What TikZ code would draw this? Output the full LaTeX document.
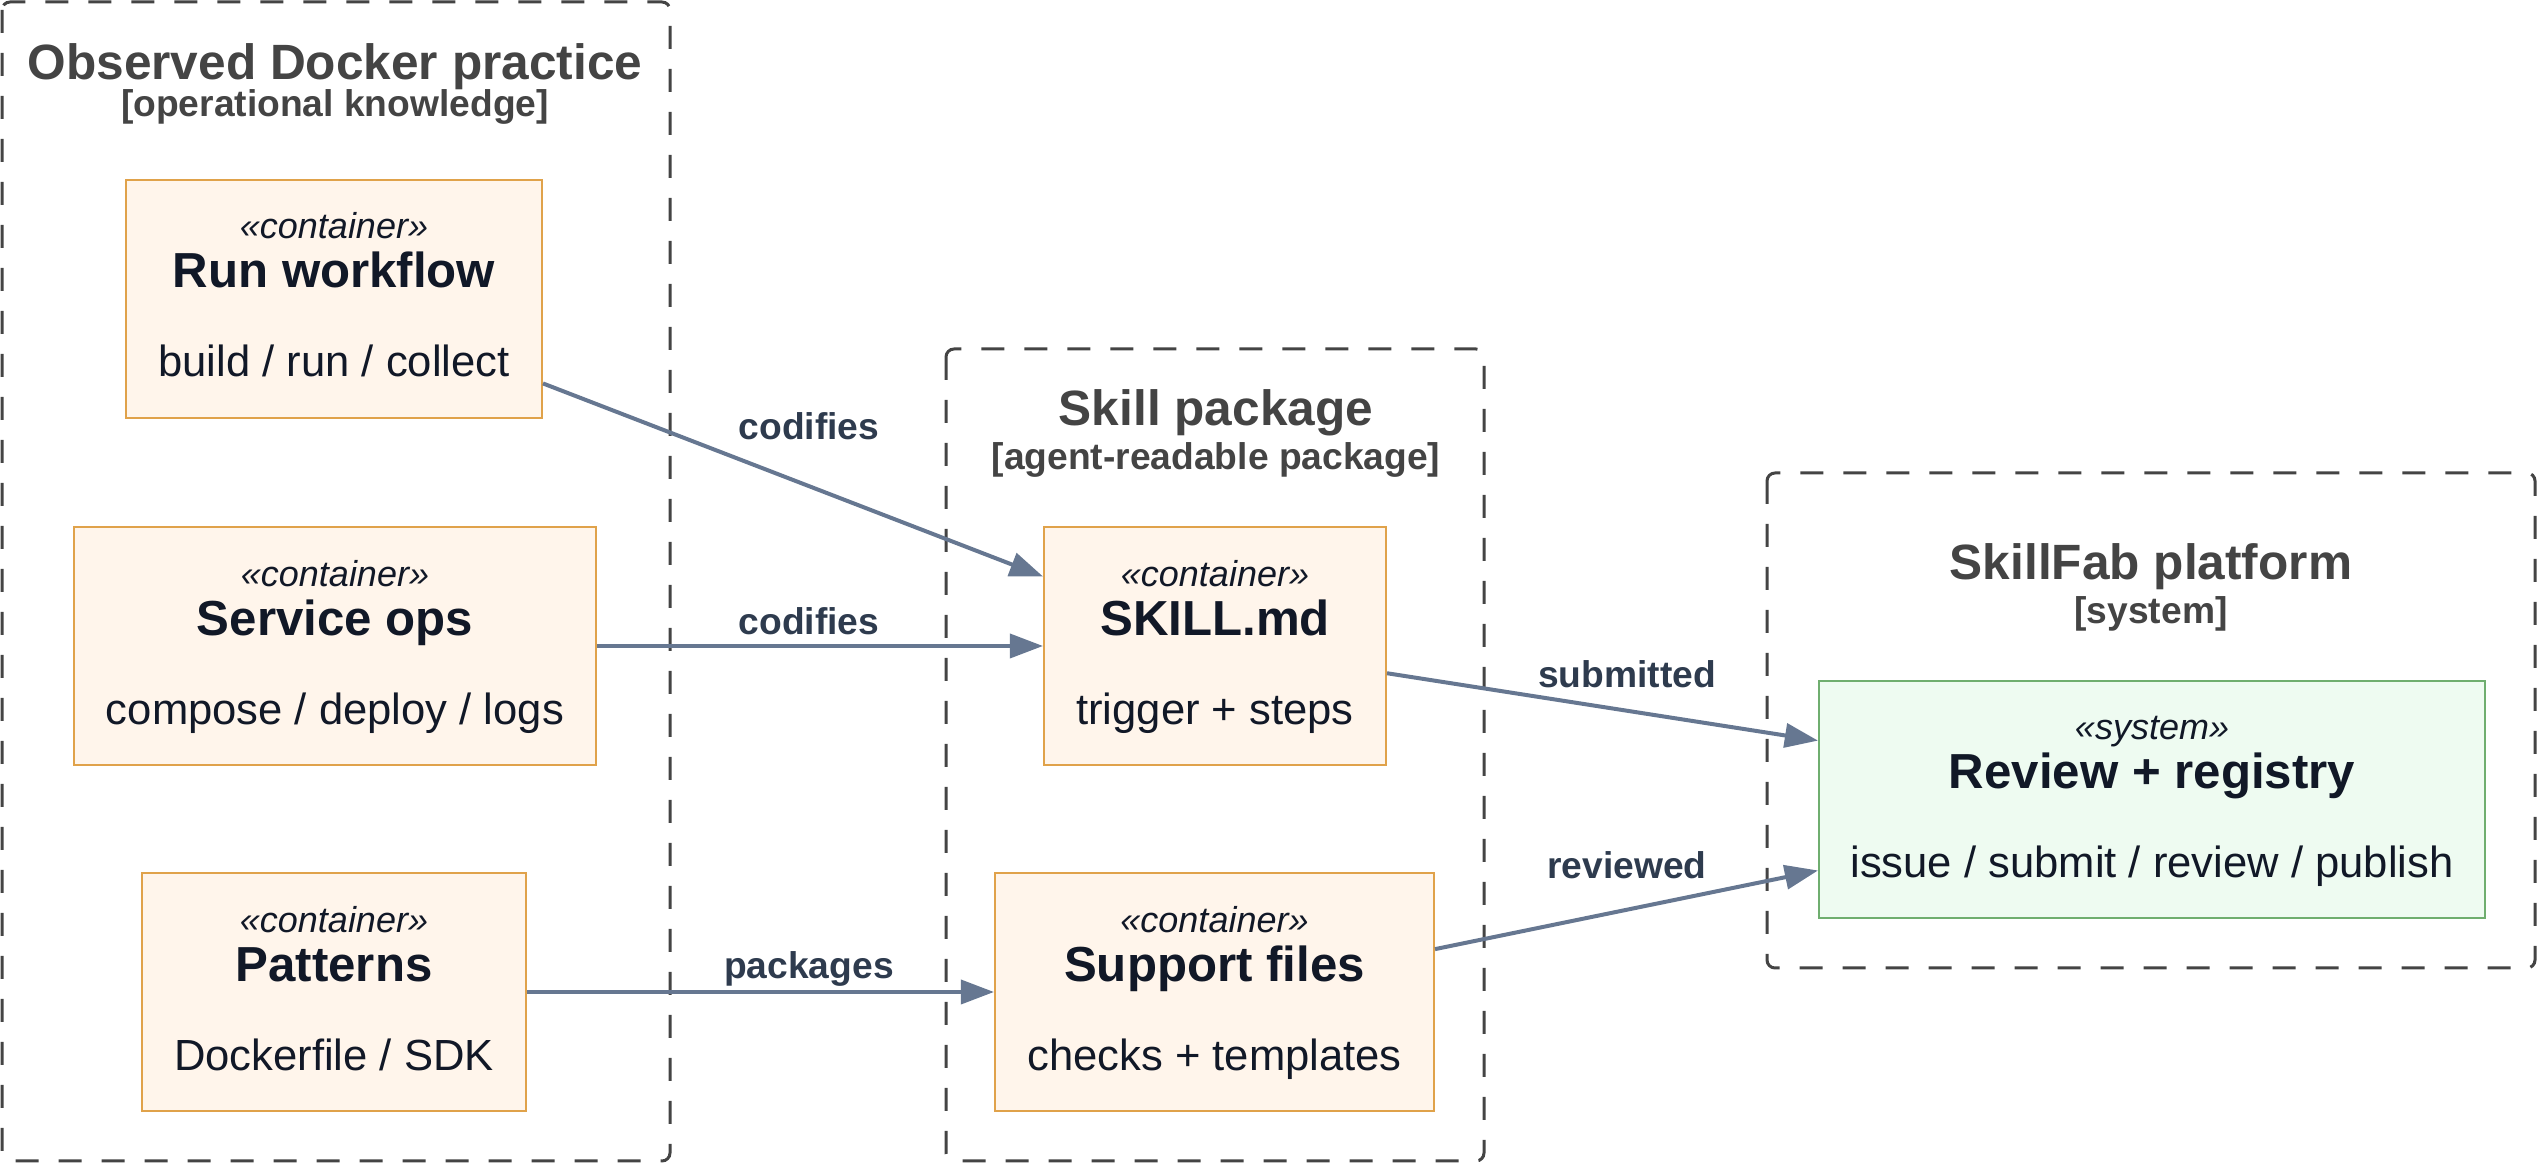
\documentclass[tikz,border=0pt]{standalone}
\usepackage{fontspec}
\setmainfont{Liberation Sans}
\usetikzlibrary{arrows.meta}

\definecolor{groupgray}{HTML}{444444}
\definecolor{boxline}{HTML}{E0A24A}
\definecolor{boxfill}{HTML}{FFF5EB}
\definecolor{sysline}{HTML}{6FAE6F}
\definecolor{sysfill}{HTML}{EEFBF1}
\definecolor{inktext}{HTML}{111827}
\definecolor{flowline}{HTML}{667791}
\definecolor{flowtext}{HTML}{2E3B4E}

\begin{document}
\begin{tikzpicture}[x=0.25pt,y=0.25pt,yscale=-1,
  group/.style={draw=groupgray,line width=0.75pt,dash pattern=on 5.75pt off 5pt,rounded corners=2pt},
  grouptitle/.style={anchor=base,inner sep=0pt,text=groupgray,font=\fontsize{12.4}{14}\selectfont\bfseries},
  groupsub/.style={anchor=base,inner sep=0pt,text=groupgray,font=\fontsize{9.3}{11}\selectfont\bfseries},
  ctr/.style={draw=boxline,fill=boxfill,line width=0.5pt,minimum height=59.5pt},
  sys/.style={draw=sysline,fill=sysfill,line width=0.5pt,minimum height=59.25pt},
  stereo/.style={anchor=base,inner sep=0pt,text=inktext,font=\fontsize{9}{11}\selectfont\itshape},
  ctitle/.style={anchor=base,inner sep=0pt,text=inktext,font=\fontsize{12.3}{14}\selectfont\bfseries},
  cdesc/.style={anchor=base,inner sep=0pt,text=inktext,font=\fontsize{10.9}{13}\selectfont},
  flow/.style={draw=flowline,line width=1pt,-{Triangle[length=8.3pt,width=6pt]}},
  flowlabel/.style={anchor=base,inner sep=0pt,text=flowtext,font=\fontsize{9.3}{11}\selectfont\bfseries}]
\useasboundingbox (0,0) rectangle (2538,1163);

%Shape: Dashed groups
\draw[group] (2,2) rectangle (670,1161);
\draw[group] (946,349) rectangle (1484,1161);
\draw[group] (1767,473) rectangle (2535,968);

% Text Node
\node[grouptitle] (obsT) at (335,80) {Observed Docker practice};
\node[groupsub] (obsS) at (335,117) {[operational knowledge]};
\node[grouptitle] (pkgT) at (1216,426) {Skill package};
\node[groupsub] (pkgS) at (1216,470) {[agent-readable package]};
\node[grouptitle] (platT) at (2151,580) {SkillFab platform};
\node[groupsub] (platS) at (2151,624) {[system]};

%Shape: Containers
\node[ctr,minimum width=104pt] (run) at (334,299) {};
\node[ctr,minimum width=130.5pt] (svc) at (335,646) {};
\node[ctr,minimum width=96pt] (pat) at (334,992) {};
\node[ctr,minimum width=85.5pt] (skill) at (1215,646) {};
\node[ctr,minimum width=109.75pt] (supp) at (1214.5,992) {};
\node[sys,minimum width=166.5pt] (rev) at (2152,799.5) {};

% Text Node
\node[stereo] (runS) at (334,239) {«container»};
\node[ctitle] (runT) at (334,288) {Run workflow};
\node[cdesc] (runD) at (334,377) {build / run / collect};
% Text Node
\node[stereo] (svcS) at (335,587) {«container»};
\node[ctitle] (svcT) at (335,636) {Service ops};
\node[cdesc] (svcD) at (335,725) {compose / deploy / logs};
% Text Node
\node[stereo] (patS) at (334,933) {«container»};
\node[ctitle] (patT) at (334,982) {Patterns};
\node[cdesc] (patD) at (334,1071) {Dockerfile / SDK};
% Text Node
\node[stereo] (skillS) at (1215,587) {«container»};
\node[ctitle] (skillT) at (1215,636) {SKILL.md};
\node[cdesc] (skillD) at (1215,725) {trigger + steps};
% Text Node
\node[stereo] (suppS) at (1214.5,933) {«container»};
\node[ctitle] (suppT) at (1214.5,982) {Support files};
\node[cdesc] (suppD) at (1214.5,1071) {checks + templates};
% Text Node
\node[stereo] (revS) at (2152,740) {«system»};
\node[ctitle] (revT) at (2152,789) {Review + registry};
\node[cdesc] (revD) at (2152,878) {issue / submit / review / publish};

%Straight Lines
\draw[flow] (run.-22) -- (skill.158);
\draw[flow] (svc.east) -- (skill.west);
\draw[flow] (pat.east) -- (supp.west);
\draw[flow] (skill.-9) -- (rev.170.6);
\draw[flow] (supp.11.6) -- (rev.-168.3);

% Text Node
\node[flowlabel] (lbl1) at (809,440) {codifies};
\node[flowlabel] (lbl2) at (809,635) {codifies};
\node[flowlabel] (lbl3) at (809,979) {packages};
\node[flowlabel] (lbl4) at (1627,688) {submitted};
\node[flowlabel] (lbl5) at (1627,879) {reviewed};

\end{tikzpicture}
\end{document}
